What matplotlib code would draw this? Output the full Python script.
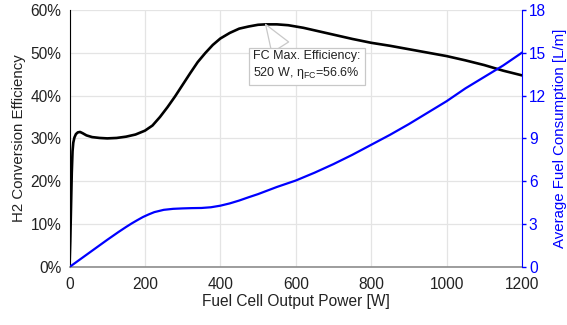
import matplotlib
matplotlib.use("Agg")
import matplotlib.pyplot as plt
from matplotlib.ticker import FuncFormatter

plt.rcParams['font.family'] = ['Liberation Sans', 'DejaVu Sans']

# Efficiency curve (W, %)
eff_power = [0, 2, 4, 6, 8, 10, 13, 17, 22, 28, 35, 45, 60, 80, 100, 125, 150, 175,
             200, 220, 240, 260, 280, 300, 320, 340, 360, 380, 400, 425, 450, 475,
             500, 520, 550, 580, 620, 660, 700, 750, 800, 850, 900, 950, 1000,
             1050, 1100, 1150, 1200]
eff_pct = [0, 6, 14, 22, 27, 29, 30.2, 31.0, 31.4, 31.5, 31.2, 30.7, 30.3, 30.1, 30.0,
           30.1, 30.4, 30.9, 31.8, 33.0, 35.0, 37.3, 39.8, 42.5, 45.2, 47.8, 49.9, 51.8,
           53.3, 54.6, 55.6, 56.1, 56.5, 56.6, 56.6, 56.4, 55.8, 55.0, 54.2, 53.2, 52.3,
           51.6, 50.8, 50.0, 49.2, 48.2, 47.1, 45.8, 44.7]

# Fuel consumption curve (W, L/m)
fuel_power = [0, 50, 100, 130, 150, 165, 180, 195, 210, 225, 250, 275, 300, 325, 350,
              375, 400, 425, 450, 475, 500, 550, 600, 650, 700, 750, 800, 850, 900,
              950, 1000, 1050, 1100, 1150, 1200]
fuel_lpm = [0, 0.95, 1.9, 2.45, 2.8, 3.05, 3.28, 3.5, 3.68, 3.84, 4.0, 4.07, 4.1, 4.12,
            4.13, 4.18, 4.29, 4.45, 4.65, 4.88, 5.1, 5.6, 6.05, 6.6, 7.2, 7.85, 8.55,
            9.25, 10.0, 10.8, 11.6, 12.5, 13.3, 14.1, 15.0]

x_ticks = [0, 200, 400, 600, 800, 1000, 1200]
left_ticks = [0, 10, 20, 30, 40, 50, 60]
right_ticks = [0, 3, 6, 9, 12, 15, 18]

max_power = 520
max_eff = 56.6

fig = plt.figure(figsize=(5.67, 3.25), dpi=100)
ax = fig.add_axes([0.1226, 0.1785, 0.7980, 0.7914])
ax2 = ax.twinx()

ax.plot(eff_power, eff_pct, color='black', lw=1.9, zorder=3, solid_capstyle='round')
ax2.plot(fuel_power, fuel_lpm, color='#0000ff', lw=1.6, zorder=3)

ax.set_xlim(0, 1200)
ax.set_ylim(0, 60)
ax2.set_ylim(0, 18)
ax.set_xticks(x_ticks)
ax.set_yticks(left_ticks)
ax2.set_yticks(right_ticks)
ax.yaxis.set_major_formatter(FuncFormatter(lambda v, p: f"{v:.0f}%"))

ax.grid(True, color='#e4e4e4', lw=0.9)
ax.set_axisbelow(True)

for a in (ax, ax2):
    a.spines['top'].set_visible(False)
ax.spines['left'].set_color('black')
ax.spines['bottom'].set_color('#8c8c8c')
ax.spines['bottom'].set_linewidth(1.2)
ax.spines['right'].set_visible(False)
ax2.spines['left'].set_visible(False)
ax2.spines['bottom'].set_visible(False)
ax2.spines['right'].set_color('#0000ff')

fs = 11.2
lfs = 10.8
ax.tick_params(axis='x', length=0, pad=7.5, labelsize=fs, colors='#222222')
ax.tick_params(axis='y', length=0, pad=6, labelsize=fs, colors='#222222')
ax2.tick_params(axis='y', length=3, width=1, pad=2, labelsize=fs, colors='#0000ff')

ax.set_xlabel('Fuel Cell Output Power [W]', fontsize=fs, color='#222222', labelpad=1)
ax.set_ylabel('H2 Conversion Efficiency', fontsize=lfs, color='#222222', labelpad=3)
ax2.set_ylabel('Average Fuel Consumption [L/m]', fontsize=lfs, color='#0000ff', labelpad=5)

ax.annotate('FC Max. Efficiency:\n' + f'{max_power} W, η' + r'$_{\mathregular{FC}}$' + f'={max_eff}%',
            xy=(max_power, max_eff), xytext=(629, 47.0), textcoords='data',
            ha='center', va='center', fontsize=9, color='#222222', linespacing=1.25,
            bbox=dict(boxstyle='square,pad=0.35', fc='white', ec='#c8c8c8', lw=0.9),
            arrowprops=dict(arrowstyle='wedge,tail_width=0.8', mutation_scale=18,
                            fc='white', ec='#c8c8c8', lw=0.9, shrinkA=0, shrinkB=0,
                            relpos=(0.27, 1.0)),
            zorder=5)

fig.savefig('out.png', dpi=100)
